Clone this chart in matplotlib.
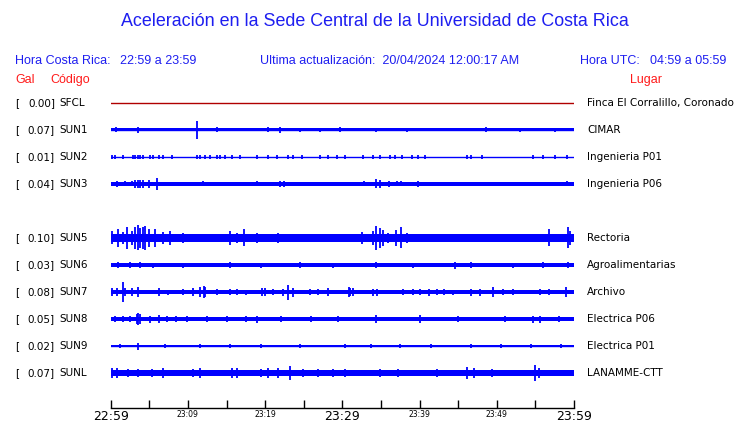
import matplotlib
matplotlib.use("Agg")
import matplotlib.pyplot as plt
import numpy as np

# station rows (None = empty slot)
codes = ["SFCL", "SUN1", "SUN2", "SUN3", None, "SUN5", "SUN6", "SUN7", "SUN8", "SUN9", "SUNL"]
gals = ["0.00", "0.07", "0.01", "0.04", None, "0.10", "0.03", "0.08", "0.05", "0.02", "0.07"]
places = ["Finca El Corralillo, Coronado", "CIMAR", "Ingenieria P01", "Ingenieria P06", None,
          "Rectoria", "Agroalimentarias", "Archivo", "Electrica P06", "Electrica P01", "LANAMME-CTT"]

# time axis: minutes after 22:59
tick_minutes = list(range(0, 61, 5))
tick_labels = ["22:59", "", "23:09", "", "23:19", "", "23:29", "", "23:39", "", "23:49", "", "23:59"]
big_labels = ["22:59", "23:29", "23:59"]

# background band half-width (px) per 5-minute block
band = {
    "SUN1": [1.5] * 12,
    "SUN2": [0.3] * 12,
    "SUN3": [1.8] * 12,
    "SUN5": [3.6] * 12,
    "SUN6": [1.6] * 12,
    "SUN7": [1.6] * 12,
    "SUN8": [2.2] * 12,
    "SUN9": [0.9] * 12,
    "SUNL": [3.0] * 12,
}

# bursts: (minute, half-height px)
spikes = {
    "SUN1": [(0.7, 2.5), (3.6, 3), (11.2, 9), (13.8, 2.5), (20.4, 2.5), (21.9, 3), (24.5, 2),
             (27.1, 2), (29.7, 2.5), (34.3, 2), (38.4, 2), (48.6, 2.5), (53.0, 2), (57.6, 2)],
    "SUN2": [(0.2, 2), (0.6, 2), (1.6, 2), (2.9, 2), (3.2, 2), (3.6, 2), (3.8, 2), (4.2, 2),
             (5.1, 2), (5.5, 2), (6.2, 2), (6.8, 2), (8.0, 2), (11.2, 2), (11.6, 2), (12.2, 2),
             (12.9, 2), (13.8, 2), (14.2, 2), (14.8, 2), (15.7, 2), (16.8, 2), (19.0, 2),
             (20.4, 2), (21.6, 2), (23.0, 2), (23.6, 2), (24.8, 2), (27.1, 2), (28.2, 2),
             (29.3, 2), (30.4, 2), (32.7, 2), (34.0, 2), (34.9, 2), (36.2, 2), (36.8, 2),
             (37.7, 2), (39.0, 2), (39.8, 2), (40.7, 2), (46.2, 2), (46.6, 2), (48.1, 2),
             (54.7, 2), (56.0, 2), (57.6, 2), (59.1, 2)],
    "SUN3": [(0.8, 3), (1.9, 2.5), (2.8, 2.5), (3.2, 4), (3.6, 4), (3.8, 4), (4.2, 4), (4.9, 4),
             (6.0, 6), (12.0, 2.5), (19.0, 2.5), (21.9, 3), (22.5, 3), (32.8, 2.5), (34.3, 4.5),
             (34.9, 4), (36.1, 3), (37.1, 2.5), (37.6, 2.5), (39.8, 3), (59.1, 2.5)],
    "SUN5": [(0.2, 6.5), (1.0, 9), (1.6, 6), (2.1, 11), (2.8, 7), (3.2, 11), (3.6, 12.5),
             (3.8, 10), (4.2, 11), (4.5, 12), (4.9, 9), (5.8, 9), (6.8, 6), (7.7, 7), (9.3, 5),
             (15.5, 7), (16.4, 5), (17.2, 8.5), (19.0, 5), (21.7, 5), (23.6, 4), (32.6, 6),
             (34.0, 7), (34.4, 12), (34.9, 10), (35.2, 8), (35.9, 5), (37.0, 8), (37.6, 10.5),
             (38.4, 5), (41.0, 4), (47.2, 4), (55.6, 4), (56.8, 8.5), (59.2, 10.5), (59.5, 7)],
    "SUN6": [(1.0, 3), (2.5, 3), (3.8, 3), (5.5, 2.5), (9.3, 2.5), (15.5, 3), (19.4, 2.5),
             (24.5, 3), (28.8, 2.5), (34.3, 3), (39.1, 2.5), (44.6, 3.5), (46.6, 3), (52.1, 2.5),
             (56.0, 3), (59.2, 3)],
    "SUN7": [(0.2, 4), (0.8, 4), (1.6, 10), (1.9, 4), (2.8, 4), (3.6, 5), (6.2, 4), (7.4, 2.5),
             (9.3, 3), (10.7, 4), (11.6, 5), (12.1, 6), (12.2, 5), (13.8, 3), (15.5, 3),
             (16.4, 3), (17.5, 2.5), (19.6, 4), (20.0, 4), (21.0, 3), (22.3, 3.5), (22.9, 7.5),
             (23.6, 4.5), (25.8, 3), (26.9, 3), (28.2, 4), (30.8, 5), (31.0, 4), (31.4, 4),
             (34.0, 3.5), (34.5, 3.5), (37.9, 3), (39.1, 3), (40.1, 3), (41.2, 3.5), (42.3, 3),
             (43.1, 3), (44.3, 2.5), (46.6, 3.5), (47.8, 3.5), (49.5, 5.5), (50.8, 3),
             (52.1, 3), (55.6, 3), (56.7, 3), (59.0, 5.5)],
    "SUN8": [(0.6, 3), (1.6, 3), (2.5, 3), (3.4, 5), (3.6, 6), (3.8, 5), (5.1, 3.5), (6.2, 4),
             (7.3, 3), (8.5, 3), (9.9, 3), (12.5, 3), (15.0, 3), (17.5, 3), (19.0, 3.5),
             (22.0, 3), (26.0, 3), (29.5, 3), (34.3, 4), (40.1, 4), (45.0, 3), (51.1, 3),
             (54.7, 3.5), (55.6, 3.5), (58.0, 3)],
    "SUN9": [(1.2, 2), (3.6, 3.5), (7.0, 2), (11.6, 2), (15.5, 2), (19.4, 2), (24.5, 2),
             (30.4, 2), (33.7, 2), (37.5, 2), (41.5, 2), (46.6, 2), (50.5, 2), (54.4, 2),
             (58.3, 2)],
    "SUNL": [(0.2, 5), (0.8, 5), (2.3, 4.5), (3.6, 4.5), (5.4, 4.5), (6.8, 5), (10.6, 4.5),
             (11.6, 5), (15.7, 5), (16.4, 5), (19.4, 4), (20.4, 5), (21.7, 5), (23.2, 7),
             (24.9, 4.5), (26.9, 4.5), (28.8, 4.5), (30.4, 4.5), (34.9, 4.5), (37.2, 4.5),
             (42.3, 4.5), (46.2, 6), (47.0, 5), (49.4, 4.5), (55.0, 8), (55.5, 5)],
}

W, H = 740, 423
fig = plt.figure(figsize=(W / 100, H / 100), dpi=100)

def ftext(x, y, s, **kw):
    fig.text(x / W, 1 - y / H, s, va="center", **kw)

blue_txt = "#1e1ef0"
red_txt = "#ff1a1a"
hdr = dict(family="Liberation Sans", fontsize=9, color=blue_txt)

ftext(375, 22, "Aceleración en la Sede Central de la Universidad de Costa Rica",
      ha="center", family="Liberation Sans", fontsize=12.9, color=blue_txt)
ftext(15, 61, "Hora Costa Rica:", **hdr)
ftext(120, 61, "22:59 a 23:59", **hdr)
ftext(260, 61, "Ultima actualización:  20/04/2024 12:00:17 AM", **hdr)
ftext(580, 61, "Hora UTC:", **hdr)
ftext(650, 61, "04:59 a 05:59", **hdr)
ftext(15, 80, "Gal", family="Liberation Sans", fontsize=9, color=red_txt)
ftext(50, 80, "Código", family="Liberation Sans", fontsize=9, color=red_txt)
ftext(630, 80, "Lugar", family="Liberation Sans", fontsize=9, color=red_txt)

# trace axes: x in minutes, y in row index (27 px per row)
x0, x1 = 110.7, 574.0
ax = fig.add_axes([x0 / W, 1 - 408 / H, (x1 - x0) / W, (408 - 76) / H])
ax.set_xlim(0, 60)
ax.set_ylim((408 - 103) / 27, -1)
px = 1 / 27
blue = "#0000ff"

for i, code in enumerate(codes):
    if code is None:
        continue
    ftext(15, 103 + 27 * i, "[", family="DejaVu Sans", fontsize=7.5)
    ftext(55, 103 + 27 * i, gals[i] + "]", ha="right", family="DejaVu Sans", fontsize=7.5)
    ftext(59, 103 + 27 * i, code, family="DejaVu Sans", fontsize=7.5)
    ftext(587, 103 + 27 * i, places[i], family="DejaVu Sans", fontsize=7.5)
    if code == "SFCL":
        ax.plot([0, 60.1], [i, i], color="#b00000", lw=1)
        continue
    b = np.array(band[code])
    edges = np.arange(0, 61, 5)
    bb = np.append(b, b[-1])
    ax.fill_between(edges, i - bb * px, i + bb * px, step="post", color=blue, lw=0)
    ax.plot([0, 60.1], [i, i], color=blue, lw=1)
    t = [s[0] for s in spikes[code]]
    a = np.array([s[1] for s in spikes[code]]) * px
    ax.vlines(t, i - a, i + a, color=blue, lw=1.3)

for side in ["top", "left", "right"]:
    ax.spines[side].set_visible(False)
ax.spines["bottom"].set_linewidth(1)
ax.set_yticks([])
ax.set_xticks(tick_minutes)
ax.set_xticklabels(tick_labels, family="DejaVu Sans")
ax.tick_params(axis="x", direction="in", length=6, width=1, pad=1.5)
for lab in ax.get_xticklabels():
    lab.set_fontsize(9 if lab.get_text() in big_labels else 5.5)
ax.patch.set_visible(False)

fig.savefig("out.png", dpi=100)
